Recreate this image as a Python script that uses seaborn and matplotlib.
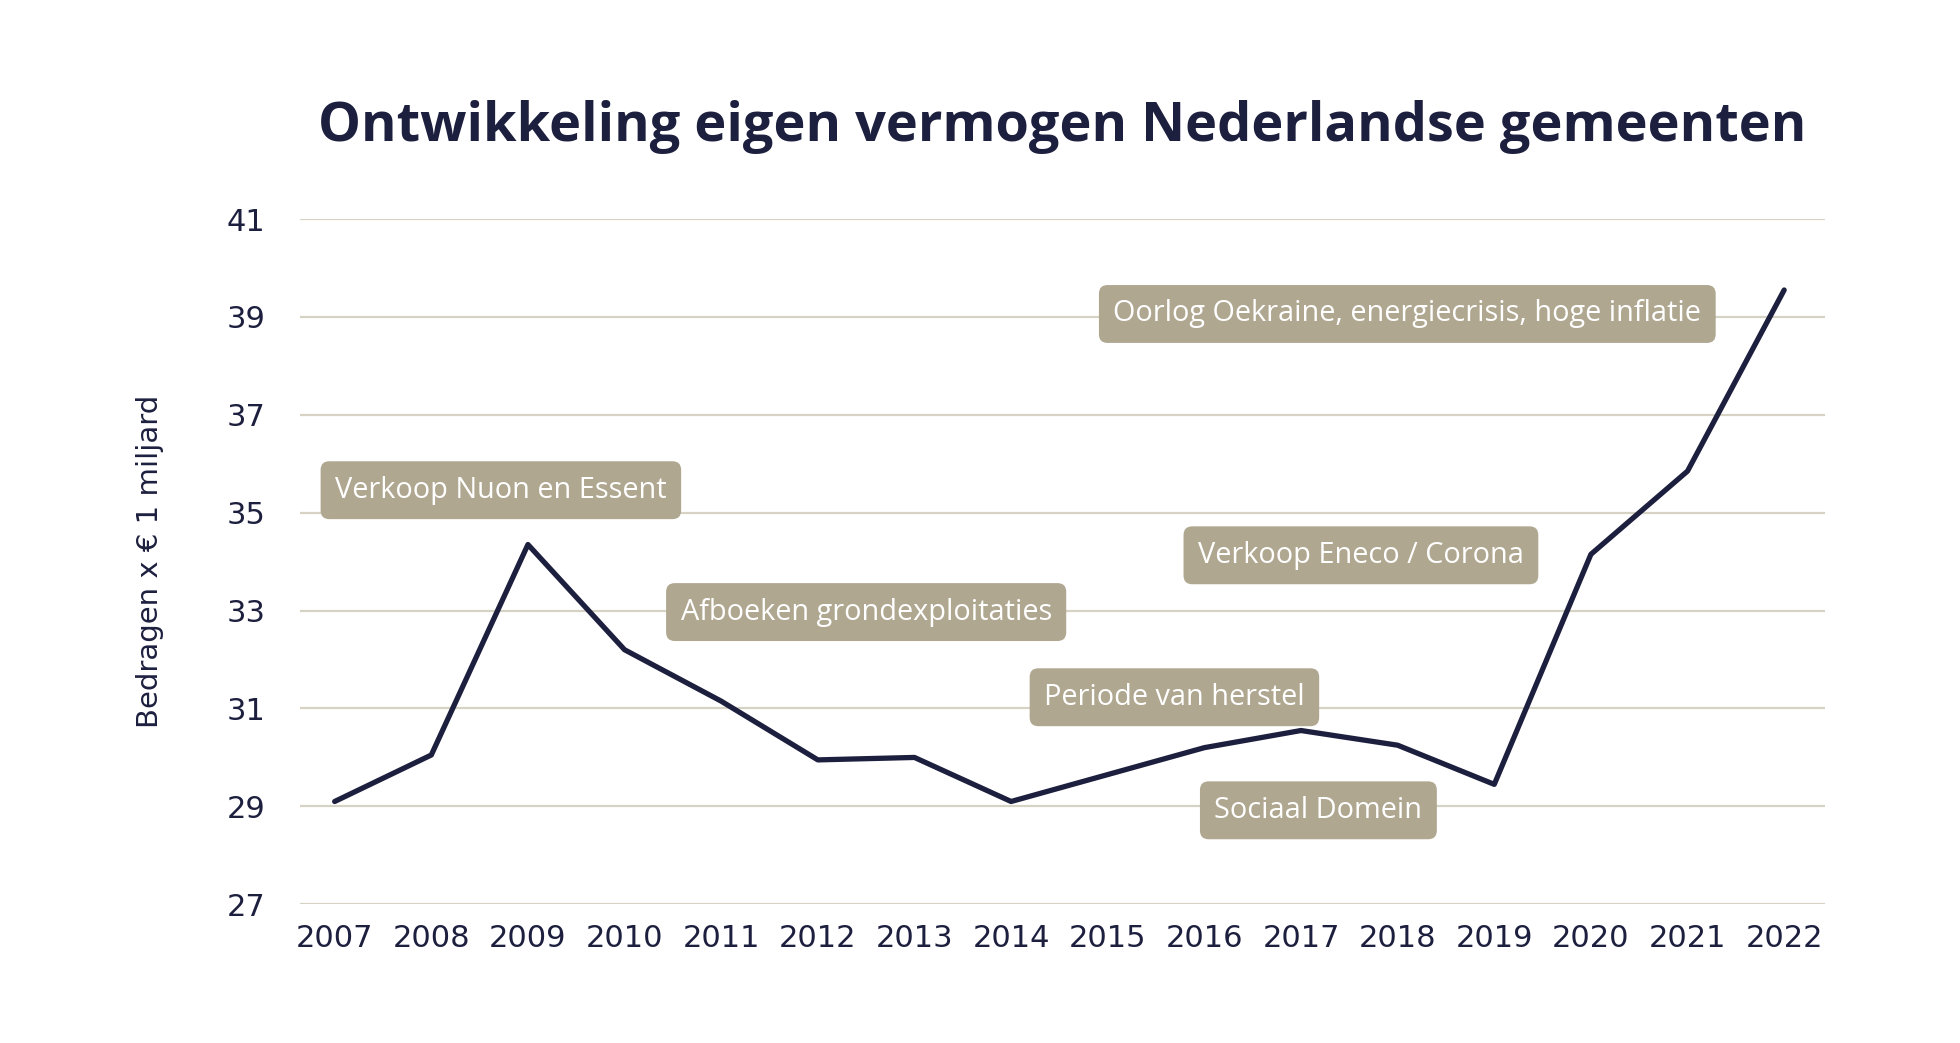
import pandas as pd
import matplotlib.pyplot as plt
import seaborn as sns

# Data (eigen vermogen, x € 1 miljard)
years = [2007, 2008, 2009, 2010, 2011, 2012, 2013, 2014, 2015,
         2016, 2017, 2018, 2019, 2020, 2021, 2022]
vermogen = [29.1, 30.05, 34.35, 32.2, 31.15, 29.95, 30.0, 29.1, 29.65,
            30.2, 30.55, 30.25, 29.45, 34.15, 35.85, 39.55]

y_ticks = [27, 29, 31, 33, 35, 37, 39, 41]

events = ['Verkoop Nuon en Essent', 'Afboeken grondexploitaties',
          'Periode van herstel', 'Sociaal Domein',
          'Verkoop Eneco / Corona',
          'Oorlog Oekraine, energiecrisis, hoge inflatie']
event_x = [2008.72, 2012.50, 2015.69, 2017.18, 2017.62, 2018.10]
event_y = [35.46, 32.97, 31.23, 28.92, 34.13, 39.06]

df = pd.DataFrame({'Jaar': years, 'Vermogen': vermogen})

navy = '#1d1f3e'
box_color = '#b0a790'
grid_color = '#d6d2c4'

sns.set_style('white')
plt.rcParams['font.family'] = ['DejaVu Sans']

fig = plt.figure(figsize=(19.6, 10.43), dpi=100)
ax = fig.add_axes([0.153, 0.133, 0.778, 0.657])

for yt in y_ticks:
    ax.axhline(yt, color=grid_color, linewidth=1.6, zorder=0)

sns.lineplot(data=df, x='Jaar', y='Vermogen', color=navy, linewidth=3.8,
             ax=ax, zorder=3)

# gebeurtenissen als labels
for txt, ex, ey in zip(events, event_x, event_y):
    ax.text(ex, ey, txt, ha='center', va='center', color='white',
            fontsize=20.8, family=['Open Sans', 'DejaVu Sans'], zorder=4,
            bbox=dict(boxstyle='round,pad=0.5,rounding_size=0.3',
                      facecolor=box_color, edgecolor='none'))

ax.set_xlim(2006.64, 2022.42)
ax.set_ylim(27, 41)
ax.set_xticks(years)
ax.set_xticklabels([str(y) for y in years])
ax.set_yticks(y_ticks)
ax.tick_params(axis='both', length=0, labelsize=22, colors=navy)
ax.tick_params(axis='y', pad=25)
ax.tick_params(axis='x', pad=14)
for s in ax.spines.values():
    s.set_visible(False)

ax.set_xlabel('')
ax.set_ylabel('Bedragen x € 1 miljard', fontsize=21, color=navy, labelpad=45)

fig.text(0.542, 0.865, 'Ontwikkeling eigen vermogen Nederlandse gemeenten',
         ha='center', va='baseline', fontsize=39, fontweight='bold',
         color=navy, family=['Open Sans', 'DejaVu Sans'])

plt.savefig('out.png', dpi=100)
